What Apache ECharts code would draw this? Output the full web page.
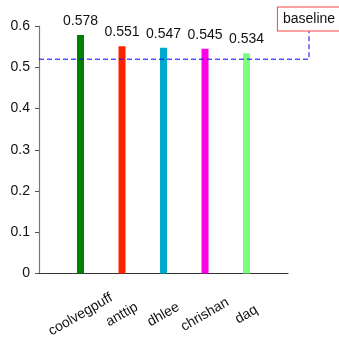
<!DOCTYPE html>
<html>
<head>
<meta charset="utf-8">
<script src="https://cdn.jsdelivr.net/npm/echarts@6/dist/echarts.min.js"></script>
<style>
  html, body { margin: 0; padding: 0; background: #fff; }
  #chart { width: 339px; height: 340px; }
</style>
</head>
<body>
<div id="chart"></div>
<script>
// Scores per user, shown as thin bars at positions 1..5 on a 0..6 axis
const names = ['coolvegpuff', 'anttip', 'dhlee', 'chrishan', 'daq'];
const scores = [0.578, 0.551, 0.547, 0.545, 0.534];
const barColors = ['#008000', '#ff2200', '#00aacc', '#ff00e6', '#7dff7d'];
const yTicks = [0, 0.1, 0.2, 0.3, 0.4, 0.5, 0.6];

// Reference level and the elbow callout that carries its label
const baselineValue = 0.52;
const baselineLabel = 'baseline';
const calloutTop = 0.588;

const FONT = 'Liberation Sans';
const TEXT = '#111';

const chart = echarts.init(document.getElementById('chart'), null, { renderer: 'canvas' });

const barSeries = names.map((n, i) => ({
  type: 'bar',
  name: n,
  xAxisIndex: 0,
  yAxisIndex: 0,
  data: [[i + 1, scores[i]]],
  barWidth: 7,
  barGap: '-100%',
  itemStyle: { color: barColors[i] },
  label: {
    show: true,
    position: 'top',
    distance: 7,
    formatter: () => scores[i].toFixed(3),
    fontFamily: FONT,
    fontSize: 14,
    color: TEXT
  },
  z: 2
}));

chart.setOption({
  animation: false,
  grid: [
    // main plot
    { left: 39, right: 51, top: 26, bottom: 65, containLabel: false },
    // wider overlay used by the baseline callout, same vertical scale
    { left: 39, right: 30, top: 26, bottom: 65, containLabel: false }
  ],
  xAxis: [
    {
      type: 'value',
      gridIndex: 0,
      min: 0,
      max: names.length + 1,
      interval: 1,
      splitLine: { show: false },
      axisTick: { show: false },
      axisLine: { show: true, lineStyle: { color: '#333', width: 1.2 } },
      axisLabel: {
        show: true,
        rotate: 30,
        align: 'center',
        verticalAlign: 'middle',
        margin: 41,
        fontFamily: FONT,
        fontSize: 14,
        color: TEXT,
        showMinLabel: true,
        showMaxLabel: true,
        formatter: v => (v >= 1 && v <= names.length ? names[v - 1] : '')
      }
    },
    { type: 'value', gridIndex: 1, min: 0, max: 1, show: false }
  ],
  yAxis: [
    {
      type: 'value',
      gridIndex: 0,
      min: yTicks[0],
      max: yTicks[yTicks.length - 1],
      interval: 0.1,
      splitLine: { show: false },
      axisLine: { show: true, lineStyle: { color: '#777', width: 1.2 } },
      axisTick: { show: true, inside: false, length: 4, lineStyle: { color: '#555' } },
      axisLabel: {
        margin: 9,
        fontFamily: FONT,
        fontSize: 14,
        color: TEXT,
        formatter: v => {
          const t = yTicks.find(x => Math.abs(x - v) < 1e-9);
          return t === 0 ? '0' : (t !== undefined ? t.toFixed(1) : '');
        }
      }
    },
    {
      type: 'value',
      gridIndex: 1,
      min: yTicks[0],
      max: yTicks[yTicks.length - 1],
      show: false
    }
  ],
  series: [
    ...barSeries,
    {
      // dashed reference line with its elbow up to the label box
      type: 'line',
      name: baselineLabel,
      xAxisIndex: 1,
      yAxisIndex: 1,
      clip: false,
      symbol: 'none',
      silent: true,
      z: 5,
      lineStyle: { color: '#0000ff', width: 1, type: [5, 3] },
      data: [
        [0, baselineValue],
        [1, baselineValue],
        [1, calloutTop]
      ]
    },
    {
      // boxed label sitting on top of the elbow
      type: 'scatter',
      xAxisIndex: 1,
      yAxisIndex: 1,
      clip: false,
      silent: true,
      symbolSize: 1,
      itemStyle: { color: '#ffffff', opacity: 1 },
      z: 6,
      data: [[1, calloutTop]],
      label: {
        show: true,
        position: 'top',
        distance: 0,
        opacity: 1,
        formatter: baselineLabel,
        fontFamily: FONT,
        fontSize: 14,
        color: TEXT,
        backgroundColor: '#fff',
        borderColor: '#ff4444',
        borderWidth: 1,
        padding: [5, 5, 4, 5]
      }
    }
  ]
});
</script>
</body>
</html>
